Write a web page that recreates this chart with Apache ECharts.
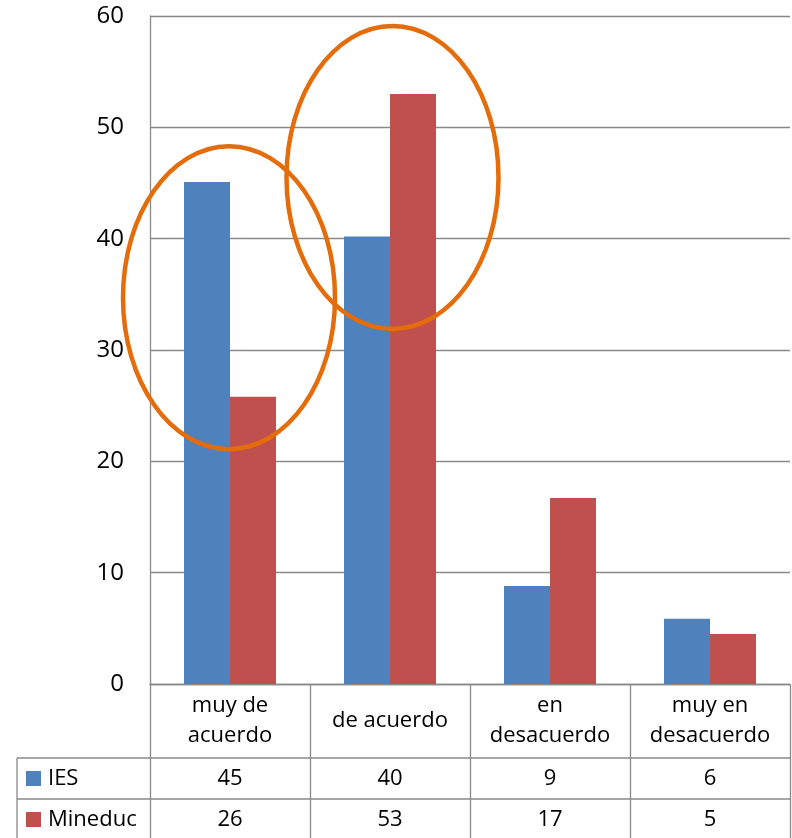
<!DOCTYPE html>
<html>
<head>
<meta charset="utf-8">
<script src="https://cdn.jsdelivr.net/npm/echarts@6/dist/echarts.min.js"></script>
<style>
html,body{margin:0;padding:0;background:#fff;}
#chart{width:792px;height:838px;}
</style>
</head>
<body>
<div id="chart"></div>
<script>
// ---- data ----
const categories = ['muy de\nacuerdo', 'de acuerdo', 'en\ndesacuerdo', 'muy en\ndesacuerdo'];
const seriesNames = ['IES', 'Mineduc'];
const iesValues = [45.1, 40.2, 8.8, 5.85];
const mineducValues = [25.8, 53.0, 16.7, 4.5];
const iesTable = [45, 40, 9, 6];
const mineducTable = [26, 53, 17, 5];
const yTicks = [0, 10, 20, 30, 40, 50, 60];
// highlighted groups (category index, value at ellipse centre)
const highlightCat = [0, 1];
const highlightVal = [34.7, 45.5];

const FONT = '"Open Sans", sans-serif';
const GRAY = '#898989';
const BLUE = '#4F81BD';
const RED = '#C0504D';
const ORANGE = '#E46C0A';

const chart = echarts.init(document.getElementById('chart'), null, {renderer: 'canvas'});

const option = {
  animation: false,
  backgroundColor: '#fff',
  grid: {left: 150, right: 2, top: 16, bottom: 154, containLabel: false},
  xAxis: {
    type: 'category',
    data: categories,
    axisLine: {show: true, lineStyle: {color: GRAY, width: 1.3}},
    axisTick: {show: true, length: 160, lineStyle: {color: GRAY, width: 1.3}},
    axisLabel: {
      interval: 0, margin: 37, verticalAlign: 'middle', lineHeight: 30,
      fontFamily: FONT, fontSize: 22, color: '#000'
    },
    splitLine: {show: false}
  },
  yAxis: {
    type: 'value',
    min: yTicks[0], max: yTicks[yTicks.length - 1], interval: 10,
    axisLine: {show: true, lineStyle: {color: GRAY, width: 1.3}},
    axisTick: {show: false},
    axisLabel: {margin: 26, fontFamily: FONT, fontSize: 24, color: '#000'},
    splitLine: {show: true, lineStyle: {color: GRAY, width: 1.3}}
  },
  series: [
    {name: seriesNames[0], type: 'bar', data: iesValues, barGap: '0%', barCategoryGap: '42.5%',
     itemStyle: {color: BLUE}},
    {name: seriesNames[1], type: 'bar', data: mineducValues, barGap: '0%', barCategoryGap: '42.5%',
     itemStyle: {color: RED}}
  ]
};
chart.setOption(option);

// ---- data table and annotations, positioned through the axes ----
const px = (c, v) => chart.convertToPixel({gridIndex: 0}, [c, v]);
const x0 = px(0, 0);
const axisY = x0[1];
const step = px(1, 0)[0] - x0[0];
const leftEdge = x0[0] - step / 2;
const rightEdge = px(categories.length - 1, 0)[0] + step / 2;
const tableTop = axisY + 74;
const rowH = 41;
const tableLeft = 17;

const g = [];
const lineStyle = {stroke: GRAY, lineWidth: 1.3};
// horizontal lines
for (let r = 0; r <= 2; r++) {
  const y = tableTop + r * rowH;
  g.push({type: 'line', shape: {x1: tableLeft, y1: y, x2: rightEdge, y2: y}, style: lineStyle, z: 10});
}
// left border
g.push({type: 'line', shape: {x1: tableLeft, y1: tableTop, x2: tableLeft, y2: tableTop + 2 * rowH}, style: lineStyle, z: 10});

const rows = [
  {name: seriesNames[0], color: BLUE, vals: iesTable},
  {name: seriesNames[1], color: RED, vals: mineducTable}
];
rows.forEach((row, i) => {
  const cy = tableTop + rowH * i + rowH / 2;
  g.push({type: 'rect', shape: {x: 26, y: cy - 7.5, width: 15, height: 15}, style: {fill: row.color}, z: 10});
  g.push({type: 'text', x: 48, y: cy, style: {text: row.name, font: '22px ' + FONT, fill: '#000',
          textAlign: 'left', textVerticalAlign: 'middle'}, z: 10});
  row.vals.forEach((v, j) => {
    const cx = px(j, 0)[0];
    g.push({type: 'text', x: cx, y: cy, style: {text: String(v), font: '22px ' + FONT, fill: '#000',
            textAlign: 'center', textVerticalAlign: 'middle'}, z: 10});
  });
});

// orange ellipses
const offsets = [[-1, 0], [2.5, 0]];
highlightCat.forEach((c, i) => {
  const p = px(c, highlightVal[i]);
  g.push({type: 'ellipse', shape: {cx: p[0] + offsets[i][0], cy: p[1] + offsets[i][1], rx: 106, ry: 151.5},
          style: {fill: 'none', stroke: ORANGE, lineWidth: 4.5}, z: 20});
});

chart.setOption({graphic: g});
</script>
</body>
</html>
